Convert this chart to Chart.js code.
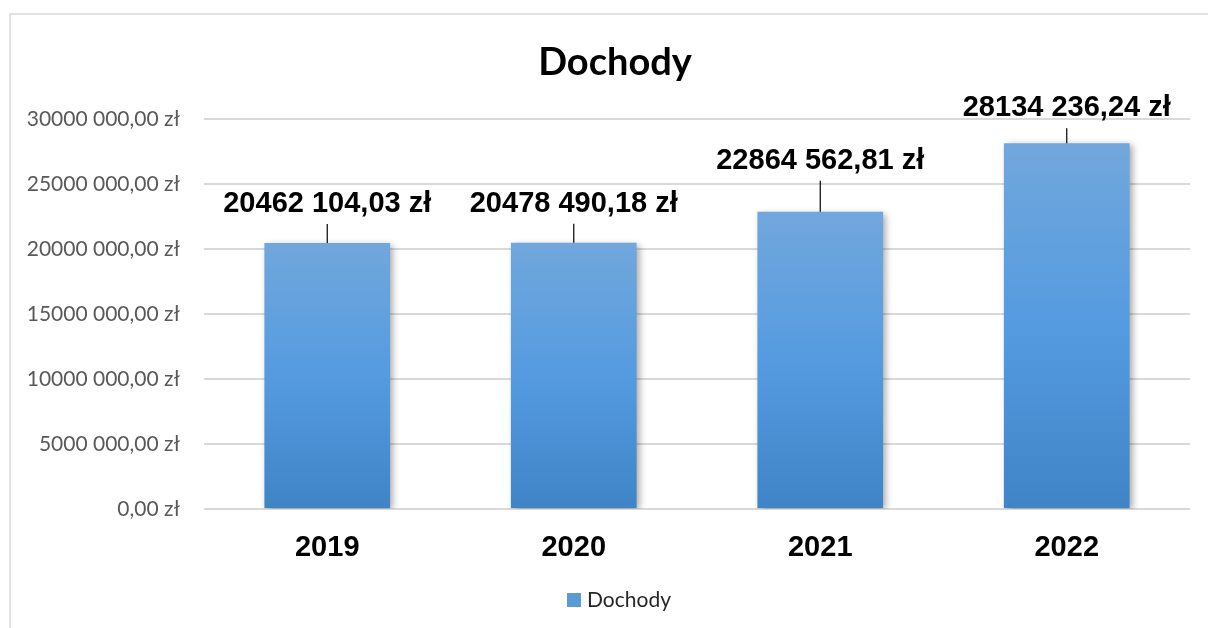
<!DOCTYPE html>
<html>
<head>
<meta charset="utf-8">
<title>Dochody</title>
<script src="https://cdn.jsdelivr.net/npm/chart.js@4/dist/chart.umd.min.js"></script>
<style>
  html, body { margin: 0; padding: 0; background: #fff; }
  .chart-box { width: 1208px; height: 628px; position: relative; }
</style>
</head>
<body>
<div class="chart-box">
  <canvas id="myChart" width="1208" height="628"></canvas>
</div>
<script>
const years = ['2019', '2020', '2021', '2022'];
const income = [20462104.03, 20478490.18, 22864562.81, 28134236.24];
const yTicks = [0, 5000000, 10000000, 15000000, 20000000, 25000000, 30000000];
const seriesName = 'Dochody';

// how high each value label sits above its bar (px)
const labelLift = [39, 39, 51, 35];

function formatZl(value){
  const parts = value.toFixed(2).split('.');
  let intPart = parts[0];
  if(intPart.length > 3){
    intPart = intPart.slice(0, -3) + ' ' + intPart.slice(-3);
  }
  return intPart + ',' + parts[1] + ' zł';
}

const app = {
  // outer frame, title and legend (the original chart is centred a bit right of the canvas)
  frame: {
    id: 'frame',
    beforeDraw: function(chart){
      const ctx = chart.ctx;
      ctx.save();
      ctx.strokeStyle = '#d9d9d9';
      ctx.lineWidth = 1.5;
      ctx.beginPath();
      ctx.moveTo(10, 628);
      ctx.lineTo(10, 14);
      ctx.lineTo(1208, 14);
      ctx.stroke();

      ctx.fillStyle = '#000';
      ctx.font = 'bold 38px Lato, "Open Sans", sans-serif';
      ctx.textAlign = 'center';
      ctx.textBaseline = 'middle';
      ctx.fillText(seriesName, 615, 63);

      ctx.fillStyle = '#5b9bd5';
      ctx.fillRect(567, 593, 14, 14);
      ctx.fillStyle = '#262626';
      ctx.font = '21px Lato, "Open Sans", sans-serif';
      ctx.textAlign = 'left';
      ctx.fillText(seriesName, 587, 600);
      ctx.restore();
    }
  },

  shadow: {
    id: 'shadow',
    beforeDatasetsDraw: function(chart){
      const ctx = chart.ctx;
      ctx.save();
      ctx.shadowColor = 'rgba(0, 0, 0, 0.35)';
      ctx.shadowBlur = 7;
      ctx.shadowOffsetX = 3;
      ctx.shadowOffsetY = 2;
    },
    afterDatasetsDraw: function(chart){
      chart.ctx.restore();
    }
  },

  valueLabels: {
    id: 'valueLabels',
    afterDatasetsDraw: function(chart){
      const ctx = chart.ctx;
      const meta = chart.getDatasetMeta(0);
      ctx.save();
      ctx.font = 'bold 29px "Liberation Sans", Arial, sans-serif';
      ctx.fillStyle = '#000';
      ctx.textAlign = 'center';
      ctx.textBaseline = 'middle';
      meta.data.forEach(function(bar, i){
        const textY = bar.y - labelLift[i];
        ctx.strokeStyle = '#000';
        ctx.lineWidth = 1.2;
        ctx.beginPath();
        ctx.moveTo(bar.x, textY + 20);
        ctx.lineTo(bar.x, bar.y);
        ctx.stroke();
        ctx.fillText(formatZl(income[i]), bar.x, textY);
      });
      ctx.restore();
    }
  },

  initChart: function(){
    const thisApp = this;
    thisApp.ctx = document.getElementById('myChart').getContext('2d');

    // eslint-disable-next-line no-undef
    thisApp.chart = new Chart(thisApp.ctx, {
      type: 'bar',
      data: {
        labels: years,
        datasets: [{
          label: seriesName,
          data: income,
          backgroundColor: function(context){
            const chart = context.chart;
            if(!chart.chartArea || !chart.scales.y) return '#5b9bd5';
            const value = context.raw || 0;
            const top = chart.scales.y.getPixelForValue(value);
            const bottom = chart.scales.y.getPixelForValue(0);
            if(!isFinite(top) || !isFinite(bottom) || top === bottom) return '#5b9bd5';
            const g = chart.ctx.createLinearGradient(0, top, 0, bottom);
            g.addColorStop(0, '#71a7dc');
            g.addColorStop(0.5, '#559be0');
            g.addColorStop(1, '#3f84c6');
            return g;
          },
          borderWidth: 0,
          categoryPercentage: 1,
          barPercentage: 0.51,
        }]
      },
      options: {
        responsive: false,
        animation: false,
        layout: {
          padding: { top: 119, right: 18, bottom: 47, left: 0 }
        },
        plugins: {
          title: { display: false },
          legend: { display: false },
          tooltip: { enabled: false }
        },
        scales: {
          x: {
            grid: { display: false, drawTicks: false },
            border: { display: false },
            ticks: {
              color: '#000',
              padding: 22,
              font: { family: '"Liberation Sans", Arial, sans-serif', size: 29, weight: 'bold' }
            },
            afterFit: function(scale){ scale.height = 72; }
          },
          y: {
            min: 0,
            max: yTicks[yTicks.length - 1],
            grid: { color: '#d9d9d9', lineWidth: 2, drawTicks: false },
            border: { display: false },
            afterBuildTicks: function(scale){
              scale.ticks = yTicks.map(function(v){ return { value: v }; });
            },
            ticks: {
              color: '#595959',
              padding: 24,
              font: { family: 'Lato, "Open Sans", sans-serif', size: 21 },
              callback: function(value){ return formatZl(value); }
            },
            afterFit: function(scale){ scale.width = 204; }
          }
        }
      },
      plugins: [thisApp.frame, thisApp.shadow, thisApp.valueLabels]
    });
  },

  init: function(){
    this.initChart();
  }
};

app.init();
</script>
</body>
</html>
